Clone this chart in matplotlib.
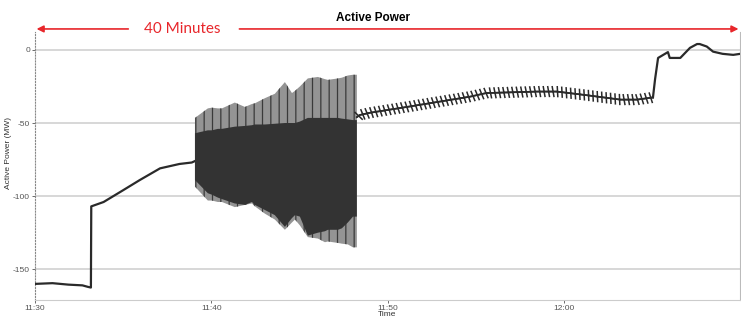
import matplotlib.pyplot as plt
import matplotlib.patheffects as pe
import matplotlib.transforms as mtransforms

# minutes after 11:30
pre_t = [0.0, 1.0, 1.9, 2.7, 3.0, 3.18, 3.2, 3.9, 5.0, 5.95, 7.1, 8.2, 8.9, 9.08]
pre_p = [-160, -159.5, -160.5, -161, -162, -162.5, -107, -104, -96, -89, -81, -78, -77, -76]

# oscillating block: outer envelope and dark core
blk_t = [9.08, 9.81, 10.04, 10.38, 10.61, 11.34, 11.91, 12.31, 12.48, 13.05, 13.61,
         14.18, 14.58, 14.75, 15.03, 15.48, 16.05, 16.45, 16.62, 17.19, 17.41, 17.75,
         18.04, 18.15, 18.26]
outer_hi = [-46.5, -40, -39.5, -40, -40, -36, -39, -37, -36.5, -33, -30,
            -22, -29.5, -28, -25, -19.5, -18.5, -20, -20.5, -19.5, -19, -17.5,
            -17, -17, -17]
outer_lo = [-93.5, -103, -103, -104, -104, -107.5, -106, -105, -107, -112, -116,
            -123, -118, -116, -120, -128, -129, -131.5, -131, -132, -132.5, -133,
            -135, -135, -135]
core_hi = [-57, -55, -55, -54, -54, -52.5, -52, -51.5, -51, -51, -50.5,
           -50, -50, -50, -49, -46.5, -46.5, -46.5, -46.5, -46.5, -47, -47.5,
           -48, -48, -48]
core_lo = [-89, -98, -99, -101, -102, -105, -106, -104, -106, -109.5, -113,
           -121, -115, -113, -114, -127, -125, -124, -123, -123, -122, -118,
           -114, -114, -114]

post_t = [18.26, 18.43, 19.0, 21.1, 24.67, 25.6, 28.47, 29.6, 31.3, 33.2, 34.15, 35.05,
          35.17, 35.34, 35.9, 36.0, 36.6, 37.15, 37.55, 37.7, 38.1, 38.46, 39.0, 39.6, 40.0]
post_p = [-46, -44.5, -43, -39, -32, -29.5, -28.5, -28.5, -31, -34, -34, -32.5,
          -20, -5.5, -1.5, -5.5, -5.5, 1.4, 4, 4, 2.3, -1.2, -2.7, -3.4, -2.7]

xticks = [0, 10, 20, 30]
xticklabels = ['11:30', '11:40', '11:50', '12:00']
yticks = [0, -50, -100, -150]

plt.rcParams['font.family'] = ['Liberation Sans', 'DejaVu Sans']
plt.rcParams['hatch.linewidth'] = 0.9
plt.rcParams['axes.unicode_minus'] = False

fig = plt.figure(figsize=(7.41, 3.19), dpi=100)
ax = fig.add_axes([0.047, 0.0596, 0.952, 0.8404])

for y in yticks:
    ax.axhline(y, color='#d4d4d4', lw=1.3, zorder=0)

ax.plot(pre_t, pre_p, color='#2a2a2a', lw=1.6, zorder=3)

ax.fill_between(blk_t, outer_lo, outer_hi, facecolor='#949494', edgecolor='#3a3a3a',
                hatch='||', lw=0, zorder=2)
ax.fill_between(blk_t, core_lo, core_hi, facecolor='#333333', lw=0, zorder=3)

# wavy section drawn as a ticked stroke
ax.plot(post_t[:12], post_p[:12], color='#2a2a2a', lw=1.2, zorder=3,
        path_effects=[pe.withTickedStroke(spacing=3.2, angle=100, length=1.1, linewidth=1.1),
                      pe.withTickedStroke(spacing=3.2, angle=-80, length=1.1, linewidth=1.1)])
ax.plot(post_t[11:], post_p[11:], color='#2a2a2a', lw=1.6, zorder=3)

ax.set_xlim(0, 40)
ax.set_ylim(-171, 12.3)
ax.set_xticks(xticks)
ax.set_xticklabels(xticklabels)
ax.set_yticks(yticks)
ax.tick_params(labelsize=6, colors='#555555', length=2, width=0.6, pad=1.5)

ax.spines['top'].set_visible(False)
ax.spines['left'].set_linestyle(':')
ax.spines['left'].set_color('#888888')
ax.spines['bottom'].set_color('#cccccc')
ax.spines['right'].set_color('#bbbbbb')

fig.text(0.011, 0.52, 'Active Power (MW)', rotation=90, ha='center', va='center',
         fontsize=6, color='#333333')
fig.text(0.522, 0.003, 'Time', ha='center', va='bottom', fontsize=6, color='#333333')

fig.text(0.503, 0.945, 'Active Power', ha='center', va='center', fontsize=8.5,
         fontweight='bold', color='black')

trans = mtransforms.blended_transform_factory(ax.transData, ax.transAxes)
red = '#e8262b'
ax.annotate('', xy=(0.1, 1.011), xytext=(5.3, 1.011), xycoords=trans, textcoords=trans,
            arrowprops=dict(arrowstyle='-|>', color=red, lw=1.2, mutation_scale=10,
                            shrinkA=0, shrinkB=0), annotation_clip=False)
ax.annotate('', xy=(39.9, 1.011), xytext=(11.6, 1.011), xycoords=trans, textcoords=trans,
            arrowprops=dict(arrowstyle='-|>', color=red, lw=1.2, mutation_scale=10,
                            shrinkA=0, shrinkB=0), annotation_clip=False)
ax.text(8.35, 1.011, '40 Minutes', transform=trans, ha='center', va='center',
        fontsize=11, color=red, family=['Lato', 'DejaVu Sans'], clip_on=False)

fig.savefig('out.png', dpi=100)
